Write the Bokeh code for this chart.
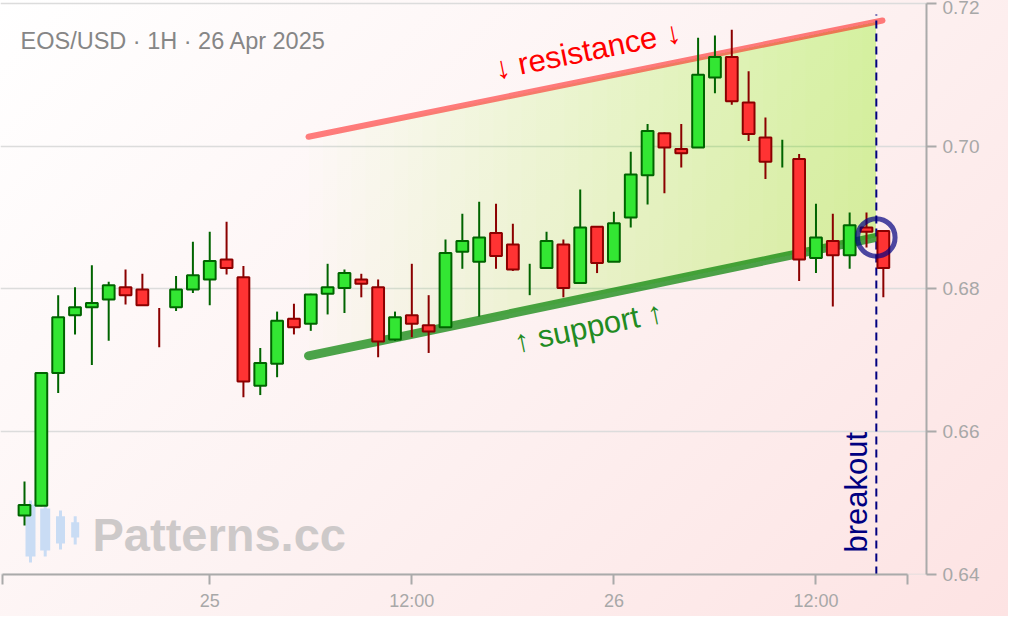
import math
import numpy as np
import pandas as pd
from bokeh.plotting import figure
from bokeh.models import (Range1d, FixedTicker, DatetimeTickFormatter,
                          NumeralTickFormatter, Label)
from bokeh.embed import file_html
from bokeh.resources import INLINE

# ---------------- data ----------------
times = pd.date_range("2025-04-24 13:00", periods=52, freq="h")
opens = [0.6482, 0.6496, 0.6682, 0.6763, 0.6774, 0.6785, 0.6802, 0.6799, 0.6746, 0.6774,
         0.6799, 0.6813, 0.6841, 0.6816, 0.6664, 0.6695, 0.6758, 0.6751, 0.6793, 0.6801,
         0.6813, 0.6802, 0.6729, 0.6763, 0.6749, 0.6746, 0.6852, 0.6838, 0.6878, 0.6862,
         0.68125, 0.6829, 0.6862, 0.6808, 0.6887, 0.6838, 0.6900, 0.6959, 0.7018, 0.6996,
         0.6998, 0.7096, 0.7125, 0.7061, 0.7012, 0.69895, 0.6982, 0.6843, 0.6867, 0.6847,
         0.6886, 0.6881]
highs = [0.6530, 0.6683, 0.6791, 0.6802, 0.6833, 0.6810, 0.6827, 0.6821, 0.6773, 0.6818,
         0.6866, 0.6880, 0.6894, 0.6832, 0.6717, 0.6768, 0.6779, 0.6793, 0.6835, 0.6827,
         0.6821, 0.6813, 0.6768, 0.6835, 0.6791, 0.6869, 0.6905, 0.6922, 0.6919, 0.6891,
         0.6835, 0.6880, 0.6869, 0.6939, 0.6888, 0.6908, 0.6992, 0.7031, 0.7019, 0.7031,
         0.7152, 0.7155, 0.7163, 0.7105, 0.7040, 0.7009, 0.6989, 0.6919, 0.6905, 0.6907,
         0.6907, 0.6881]
lows = [0.6468, 0.6495, 0.6654, 0.6736, 0.6693, 0.6727, 0.6778, 0.6777, 0.6718, 0.6769,
        0.6794, 0.6777, 0.6820, 0.6648, 0.6651, 0.6676, 0.6736, 0.6741, 0.6764, 0.6766,
        0.6788, 0.6704, 0.6727, 0.6732, 0.6710, 0.6746, 0.6828, 0.6761, 0.6828, 0.6825,
        0.6791, 0.6828, 0.6788, 0.6808, 0.6822, 0.6838, 0.6886, 0.6918, 0.6934, 0.6970,
        0.6998, 0.7074, 0.7058, 0.7007, 0.6954, 0.6970, 0.6811, 0.6822, 0.6775, 0.6828,
        0.6858, 0.6788]
closes = [0.6497, 0.6682, 0.6760, 0.6774, 0.6780, 0.6805, 0.6791, 0.6777, 0.67455, 0.6799,
          0.6819, 0.6839, 0.6829, 0.6670, 0.6696, 0.6755, 0.6746, 0.6792, 0.6802, 0.6822,
          0.6807, 0.6726, 0.6760, 0.6751, 0.6740, 0.6850, 0.6867, 0.6872, 0.6846, 0.6827,
          0.6813, 0.6867, 0.6801, 0.6886, 0.6836, 0.6892, 0.6960, 0.7021, 0.6998, 0.6990,
          0.7100, 0.7125, 0.7063, 0.7017, 0.6978, 0.6990, 0.6841, 0.6872, 0.6847, 0.6889,
          0.6880, 0.6829]

support_t = ["2025-04-25 05:52", "2025-04-26 15:35"]
support_v = [0.6706, 0.6872]
resistance_t = ["2025-04-25 05:52", "2025-04-26 15:57"]
resistance_v = [0.7013, 0.7176]
breakout_t = "2025-04-26 15:35"
breakout_v = 0.6872

x_ticks = ["2025-04-25 00:00", "2025-04-25 12:00", "2025-04-26 00:00", "2025-04-26 12:00"]
y_ticks = [0.64, 0.66, 0.68, 0.70, 0.72]
title_text = "EOS/USD · 1H · 26 Apr 2025"
resistance_label = "↓ resistance ↓"
support_label = "↑ support ↑"
breakout_label = "breakout"
watermark = "Patterns.cc"

# ---------------- helpers ----------------
HOUR = 3600000.0


def ms(t):
    return pd.Timestamp(t).value / 1e6


T0 = ms(times[0])
PX_PER_H = 16.84
PX_PER_V = 7134.0


def hx(px):  # canvas pixel -> time (decoration placement)
    return T0 + (px - 24.0) / PX_PER_H * HOUR


def vy(py):  # canvas pixel -> price (decoration placement)
    return 0.67 + (359.6 - py) / PX_PER_V


FONT = "Liberation Sans"

p = figure(width=1008, height=616, x_axis_type="datetime", y_axis_location="right",
           output_backend="svg", toolbar_location=None,
           x_range=Range1d(hx(0), hx(926)), y_range=Range1d(vy(574), vy(0)),
           min_border_left=0, min_border_top=0, min_border_right=82, min_border_bottom=42)
p.background_fill_color = None
p.border_fill_color = None
p.outline_line_color = None
p.styles = {"background": "linear-gradient(135deg, #ffffff 0%, #fdf2f2 50%, #fde3e3 100%)"}

# axes
ax = p.xaxis[0]
ax.ticker = FixedTicker(ticks=[ms(t) for t in x_ticks], minor_ticks=[hx(2), hx(906.7)])
ax.formatter = DatetimeTickFormatter(hours="%H:%M", days="%d")
ax.bounds = (hx(2), hx(906.7))
ay = p.yaxis[0]
ay.ticker = FixedTicker(ticks=y_ticks)
ay.formatter = NumeralTickFormatter(format="0.00")
ay.bounds = (0.64, 0.72)
for a in (ax, ay):
    a.axis_line_color = "#aaaaaa"
    a.axis_line_width = 2
    a.major_tick_line_color = "#aaaaaa"
    a.major_tick_line_width = 2
    a.major_tick_out = 10
    a.major_tick_in = 0
    a.major_label_text_color = "#a8a8a8"
    a.major_label_text_font = FONT
    a.major_label_standoff = 6
ax.major_label_text_font_size = "18px"
ay.major_label_text_font_size = "19px"
ax.minor_tick_line_color = "#aaaaaa"
ax.minor_tick_line_width = 2
ax.minor_tick_out = 10
ax.minor_tick_in = 0
ay.minor_tick_line_color = None

p.xgrid.grid_line_color = None
p.ygrid.ticker = FixedTicker(ticks=y_ticks)
p.ygrid.grid_line_color = "#dcdcdc"
p.ygrid.grid_line_width = 1.5

# watermark (icon + text)
ic_x = [30, 44.7, 60, 74.7]
ic_w = [10, 10, 9, 8]
ic_body = [(504, 556), (508, 550), (515.7, 543), (521.7, 537)]
ic_wick = [(500, 562), (503, 556), (510, 549), (515.7, 544)]
p.segment(x0=[hx(x) for x in ic_x], x1=[hx(x) for x in ic_x],
          y0=[vy(w[0]) for w in ic_wick], y1=[vy(w[1]) for w in ic_wick],
          line_color="#c9dcf4", line_width=3)
p.quad(left=[hx(x - w / 2) for x, w in zip(ic_x, ic_w)],
       right=[hx(x + w / 2) for x, w in zip(ic_x, ic_w)],
       top=[vy(b[0]) for b in ic_body], bottom=[vy(b[1]) for b in ic_body],
       fill_color="#c9dcf4", line_color=None)
p.add_layout(Label(x=hx(92), y=vy(533.5), text=watermark, text_font=FONT,
                   text_font_style="bold", text_font_size="47px", text_color="#cdc9c9",
                   text_align="left", text_baseline="middle"))

# title
p.add_layout(Label(x=hx(20), y=vy(40.8), text=title_text, text_font=FONT,
                   text_font_size="23.5px", text_color="#868686",
                   text_align="left", text_baseline="middle"))

# channel fill (fading in to the right)
s0, s1 = ms(support_t[0]), ms(support_t[1])
r0, r1 = ms(resistance_t[0]), ms(resistance_t[1])


def sup(t):
    return support_v[0] + (support_v[1] - support_v[0]) * (t - s0) / (s1 - s0)


def res(t):
    return resistance_v[0] + (resistance_v[1] - resistance_v[0]) * (t - r0) / (r1 - r0)


N = 40
xs, ys = [], []
for k in range(N):
    xk = s0 + (s1 - s0) * k / N
    xs.append([xk, s1, s1, xk])
    ys.append([sup(xk), sup(s1), res(s1), res(xk)])
p.patches(xs, ys, fill_color="#adff2f", fill_alpha=0.0079, line_color=None)

# support / resistance lines
p.line([s0, s1], support_v, line_color="green", line_alpha=0.7, line_width=9, line_cap="round")
p.line([r0, r1], resistance_v, line_color="red", line_alpha=0.5, line_width=6, line_cap="round")

# breakout line
bx = ms(breakout_t)
p.segment(x0=[bx], x1=[bx], y0=[vy(574)], y1=[vy(14)], line_color="navy",
          line_dash="8 5", line_width=2)

# candles
t_ms = np.array([ms(t) for t in times])
o = np.array(opens); h = np.array(highs); l = np.array(lows); c = np.array(closes)
up = c >= o
wick_col = np.where(up, "#006400", "#8b0000")
p.segment(x0=t_ms, x1=t_ms, y0=l, y1=h, line_color=list(wick_col), line_width=2)
has_body = np.abs(c - o) >= 0.0001
for mask, fill, edge in ((up & has_body, "#33e633", "#006400"),
                         (~up & has_body, "#ff3333", "#8b0000")):
    p.vbar(x=t_ms[mask], width=0.7 * HOUR, top=np.maximum(o, c)[mask],
           bottom=np.minimum(o, c)[mask], fill_color=fill, line_color=edge, line_width=2)

# breakout marker
p.scatter([bx], [breakout_v], marker="circle", size=37.5, fill_alpha=0,
          line_color="navy", line_alpha=0.7, line_width=5)

# labels
r_ang = math.atan((resistance_v[1] - resistance_v[0]) * PX_PER_V / ((r1 - r0) / HOUR * PX_PER_H))
s_ang = math.atan((support_v[1] - support_v[0]) * PX_PER_V / ((s1 - s0) / HOUR * PX_PER_H))
p.add_layout(Label(x=hx(587), y=vy(50), text=resistance_label, angle=r_ang,
                   text_font=FONT, text_font_size="31px", text_color="red",
                   text_align="center", text_baseline="middle"))
p.add_layout(Label(x=hx(588), y=vy(326.5), text=support_label, angle=s_ang,
                   text_font=FONT, text_font_size="31px", text_color="forestgreen",
                   text_align="center", text_baseline="middle"))
p.add_layout(Label(x=hx(856), y=vy(552), text=breakout_label, angle=math.pi / 2,
                   text_font=FONT, text_font_size="31px", text_color="navy",
                   text_align="left", text_baseline="middle"))

open("out.html", "w").write(file_html(p, INLINE))
